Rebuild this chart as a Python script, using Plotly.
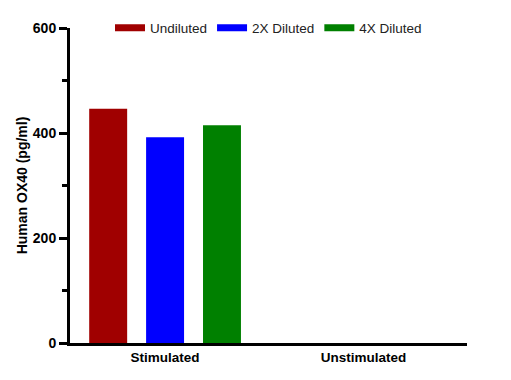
import plotly.graph_objects as go

categories = ["Stimulated", "Unstimulated"]
series_names = ["Undiluted", "2X Diluted", "4X Diluted"]
undiluted = [446, 0]
diluted_2x = [392, 0]
diluted_4x = [415, 0]
colors = ["#A00000", "#0000FF", "#008000"]
y_ticks = [0, 200, 400, 600]

fig = go.Figure()
for name, vals, col in zip(series_names, [undiluted, diluted_2x, diluted_4x], colors):
    fig.add_trace(go.Bar(x=categories, y=vals, name=name, marker_color=col,
                         marker_line_width=0, showlegend=False))
    fig.add_trace(go.Scatter(x=[None], y=[None], mode="lines", name=name,
                             line=dict(color=col, width=7)))

font = "Liberation Sans, Arial, sans-serif"
fig.update_layout(
    width=511, height=380,
    margin=dict(l=70, r=44, t=28, b=37),
    plot_bgcolor="white", paper_bgcolor="white",
    barmode="group", bargap=0.14, bargroupgap=0.333,
    font=dict(family=font, color="black", size=13),
    legend=dict(orientation="h", x=0.5, xanchor="center", y=1.0, yanchor="middle",
                font=dict(size=13.5, color="#222"), itemwidth=30, bgcolor="rgba(0,0,0,0)"),
    xaxis=dict(showline=True, linecolor="black", linewidth=3, ticks="",
               tickfont=dict(size=13.5, family=font, weight="bold"),
               range=[-0.479, 1.521], fixedrange=True),
    yaxis=dict(showline=True, linecolor="black", linewidth=3, range=[0, 600],
               tickvals=y_ticks, ticks="outside", ticklen=8, tickwidth=3, tickcolor="black",
               tickfont=dict(size=14, family=font, weight="bold"),
               showgrid=False, zeroline=False,
               minor=dict(tickvals=[100, 300, 500], ticks="outside", ticklen=5, tickwidth=3, tickcolor="black"),
               title=dict(text="Human OX40 (pg/ml)", font=dict(size=14, family=font, weight="bold"), standoff=2)),
)
fig.write_html("out.html")
